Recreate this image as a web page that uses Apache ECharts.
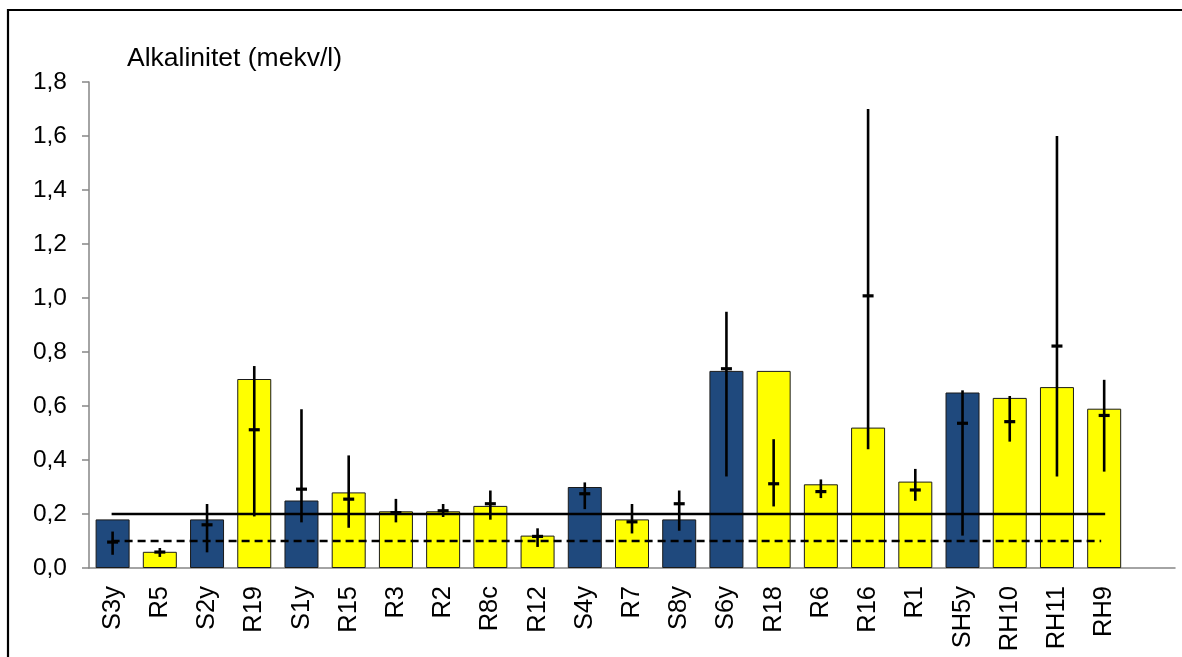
<!DOCTYPE html>
<html>
<head>
<meta charset="utf-8">
<script src="https://cdn.jsdelivr.net/npm/echarts@6/dist/echarts.min.js"></script>
<style>
html,body{margin:0;padding:0;background:#fff;}
#c{width:1182px;height:657px;}
</style>
</head>
<body>
<div id="c"></div>
<script>
// ---- data ----
const categories = ['S3y','R5','S2y','R19','S1y','R15','R3','R2','R8c','R12','S4y','R7','S8y','S6y','R18','R6','R16','R1','SH5y','RH10','RH11','RH9'];
const barValues  = [0.18,0.06,0.18,0.70,0.25,0.28,0.21,0.21,0.23,0.12,0.30,0.18,0.18,0.73,0.73,0.31,0.52,0.32,0.65,0.63,0.67,0.59];
const stationType = ['S','R','S','R','S','R','R','R','R','R','S','R','S','S','R','R','R','R','S','R','R','R'];
const maxValues  = [0.135,0.074,0.237,0.748,0.588,0.417,0.256,0.237,0.287,0.147,0.317,0.237,0.287,0.949,0.477,0.328,1.70,0.367,0.658,0.637,1.60,0.697];
const minValues  = [0.049,0.041,0.058,0.191,0.169,0.149,0.169,0.189,0.179,0.078,0.218,0.128,0.138,0.339,0.228,0.259,0.440,0.249,0.120,0.468,0.339,0.357];
const meanValues = [0.096,0.059,0.160,0.512,0.292,0.255,0.205,0.212,0.238,0.117,0.275,0.171,0.238,0.738,0.312,0.283,1.008,0.289,0.536,0.542,0.822,0.565];
const refLevels  = [0.2, 0.1];
const yTicks     = ['0,0','0,2','0,4','0,6','0,8','1,0','1,2','1,4','1,6','1,8'];
const titleText  = 'Alkalinitet (mekv/l)';

const BLUE = '#1F497D', YELLOW = '#FFFF00';
const FONT = 'Liberation Sans, Arial, sans-serif';

const chart = echarts.init(document.getElementById('c'), null, {renderer:'canvas'});

const errData = categories.map((c,i)=>[i, maxValues[i], minValues[i], meanValues[i]]);
const refData = refLevels.map((v,i)=>[i, v]);

chart.setOption({
  animation:false,
  backgroundColor:'#fff',
  title:{
    text:titleText, left:127, top:45, padding:0,
    textStyle:{fontFamily:FONT, fontSize:26.5, fontWeight:'normal', color:'#000'}
  },
  grid:{left:89, right:7, top:82, bottom:89, containLabel:false},
  xAxis:{
    type:'category', data:categories, max:22,
    axisLine:{lineStyle:{color:'#868686', width:1.5}},
    axisTick:{show:false},
    axisLabel:{
      rotate:90, margin:18, interval:0, color:'#000',
      fontFamily:FONT, fontSize:25.5,
      formatter:(v)=> categories.includes(v) ? v : ''
    }
  },
  yAxis:{
    type:'value', min:0, max:1.8, interval:0.2,
    splitLine:{show:false},
    axisLine:{show:true, lineStyle:{color:'#868686', width:1.5}},
    axisTick:{show:true, length:7, lineStyle:{color:'#868686', width:1.5}},
    axisLabel:{
      margin:22, color:'#000', fontFamily:FONT, fontSize:24.5,
      formatter:(v)=> yTicks[Math.round(v/0.2)]
    }
  },
  series:[
    {
      type:'bar', barWidth:34, z:2,
      data: barValues.map((v,i)=>({
        value:v,
        itemStyle:{color: stationType[i]==='S' ? BLUE : YELLOW, borderColor:'#1a1a1a', borderWidth:1}
      }))
    },
    {
      type:'custom', z:3, data:refData,
      renderItem:(params, api)=>{
        const v = api.value(1);
        const p1 = api.coord([0, v]);
        const p2 = api.coord([categories.length-1, v]);
        const dashed = params.dataIndex === 1;
        return {
          type:'line',
          shape:{x1:p1[0]-1, y1:p1[1], x2:p2[0]+(dashed?-3:1), y2:p2[1]},
          style:{stroke:'#000', lineWidth:2.6, lineDash: dashed ? [8,5] : null}
        };
      }
    },
    {
      type:'custom', z:4, data:errData,
      encode:{x:0, y:[1,2,3]},
      renderItem:(params, api)=>{
        const i = api.value(0);
        const hi = api.coord([i, api.value(1)]);
        const lo = api.coord([i, api.value(2)]);
        const mid = api.coord([i, api.value(3)]);
        return {
          type:'group',
          children:[
            {type:'line', shape:{x1:hi[0], y1:hi[1], x2:lo[0], y2:lo[1]},
             style:{stroke:'#000', lineWidth:2.6}},
            {type:'rect', shape:{x:mid[0]-5.5, y:mid[1]-1.6, width:11, height:3.2},
             style:{fill:'#000'}}
          ]
        };
      }
    }
  ],
  graphic:[
    {type:'rect', z:100, silent:true,
     shape:{x:8, y:10, width:1300, height:800},
     style:{fill:null, stroke:'#000', lineWidth:2.2}}
  ]
});
</script>
</body>
</html>
